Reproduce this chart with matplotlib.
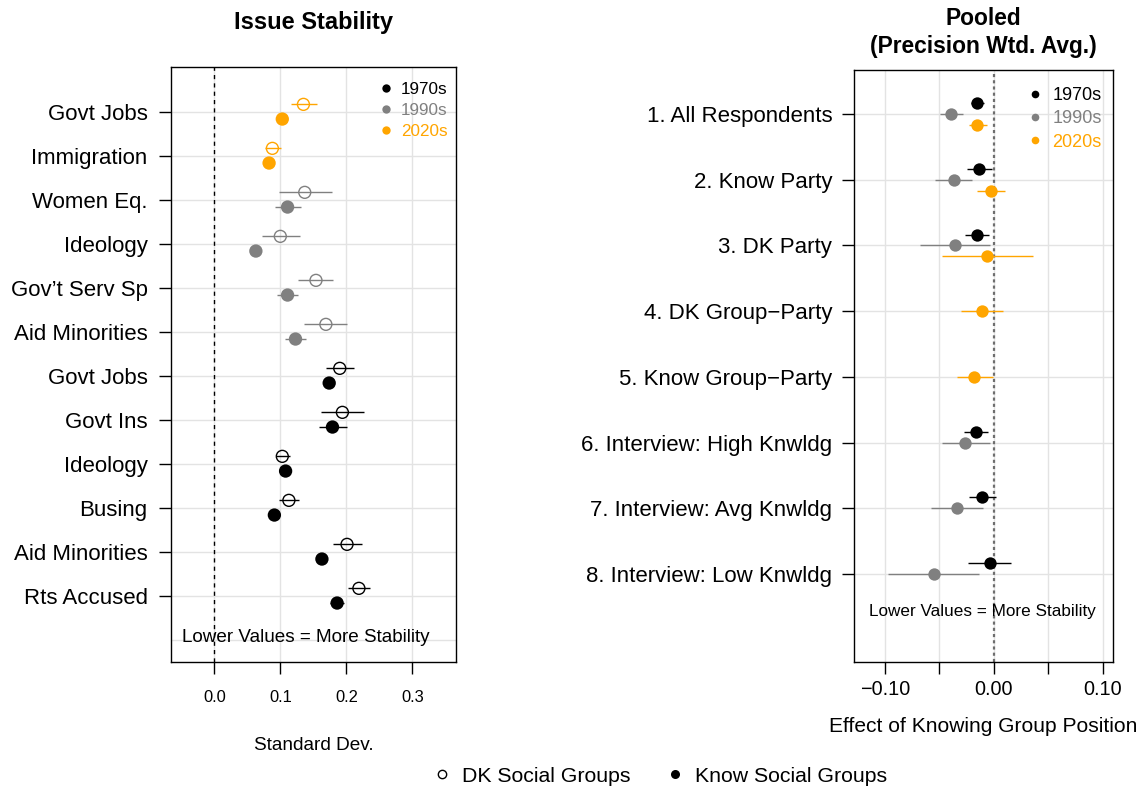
import numpy as np
import matplotlib.pyplot as plt
from matplotlib.lines import Line2D

plt.rcParams['font.family'] = 'Liberation Sans'
plt.rcParams['axes.unicode_minus'] = True

decade_colors = {'1970s': 'black', '1990s': '#808080', '2020s': '#FFA500'}
decades = ['1970s', '1990s', '2020s']

# left panel: issue stability (rows top to bottom)
issue_labels = ['Govt Jobs', 'Immigration', 'Women Eq.', 'Ideology', 'Gov\u2019t Serv Sp',
                'Aid Minorities', 'Govt Jobs', 'Govt Ins', 'Ideology', 'Busing',
                'Aid Minorities', 'Rts Accused']
issue_decade = ['2020s', '2020s', '1990s', '1990s', '1990s', '1990s',
                '1970s', '1970s', '1970s', '1970s', '1970s', '1970s']
dk_est = [0.135, 0.088, 0.137, 0.100, 0.154, 0.169, 0.190, 0.194, 0.103, 0.113, 0.201, 0.219]
dk_lo = [0.116, 0.077, 0.098, 0.072, 0.127, 0.136, 0.169, 0.161, 0.094, 0.098, 0.180, 0.203]
dk_hi = [0.155, 0.101, 0.178, 0.130, 0.180, 0.201, 0.211, 0.227, 0.114, 0.129, 0.223, 0.236]
know_est = [0.103, 0.083, 0.111, 0.063, 0.111, 0.123, 0.174, 0.179, 0.108, 0.091, 0.163, 0.186]
know_lo = [0.095, 0.076, 0.092, 0.056, 0.095, 0.107, 0.166, 0.159, 0.101, 0.084, 0.156, 0.175]
know_hi = [0.110, 0.090, 0.131, 0.070, 0.127, 0.139, 0.181, 0.201, 0.115, 0.098, 0.170, 0.196]

# right panel: pooled effects (rows top to bottom)
pooled_labels = ['1. All Respondents', '2. Know Party', '3. DK Party',
                 '4. DK Group\u2212Party', '5. Know Group\u2212Party',
                 '6. Interview: High Knwldg', '7. Interview: Avg Knwldg',
                 '8. Interview: Low Knwldg']
nan = np.nan
pooled_est = {
    '1970s': [-0.0151, -0.0132, -0.0153, nan, nan, -0.0165, -0.0108, -0.0034],
    '1990s': [-0.0390, -0.0368, -0.0356, nan, nan, -0.0260, -0.0340, -0.0549],
    '2020s': [-0.0153, -0.0028, -0.0059, -0.0105, -0.0178, nan, nan, nan],
}
pooled_lo = {
    '1970s': [-0.0210, -0.0245, -0.0264, nan, nan, -0.0273, -0.0230, -0.0233],
    '1990s': [-0.0490, -0.0540, -0.0677, nan, nan, -0.0478, -0.0576, -0.0969],
    '2020s': [-0.0230, -0.0156, -0.0475, -0.0303, -0.0340, nan, nan, nan],
}
pooled_hi = {
    '1970s': [-0.0090, -0.0018, -0.0046, nan, nan, -0.0055, 0.0018, 0.0159],
    '1990s': [-0.0285, -0.0197, -0.0034, nan, nan, -0.0037, -0.0096, -0.0132],
    '2020s': [-0.0064, 0.0101, 0.0358, 0.0083, -0.0010, nan, nan, nan],
}
pooled_offset = {'1970s': 0.165, '1990s': 0.0, '2020s': -0.165}

W, H = 1144, 789
fig = plt.figure(figsize=(W / 100, H / 100), dpi=100)
ax1 = fig.add_axes([171 / W, 1 - 662 / H, 285 / W, 595 / H])
ax2 = fig.add_axes([854.3 / W, 1 - 661.7 / H, 258.4 / W, 591.7 / H])
grid_col = '#E3E3E3'

# ---- left panel ----
n = len(issue_labels)
y = np.arange(n, 0, -1)
cols = [decade_colors[d] for d in issue_decade]
ax1.hlines(y + 0.167, dk_lo, dk_hi, colors=cols, lw=1, zorder=3)
ax1.hlines(y - 0.167, know_lo, know_hi, colors=cols, lw=1, zorder=3)
ax1.scatter(dk_est, y + 0.167, s=8.6 ** 2, facecolors='none', edgecolors=cols,
            linewidths=1, zorder=4)
ax1.scatter(know_est, y - 0.167, s=9.6 ** 2, c=cols, linewidths=0, zorder=4)
ax1.axvline(0, color='black', lw=1, ls=(0, (3, 3)), zorder=2)
ax1.axhline(0, color=grid_col, lw=1, zorder=0)

ax1.set_xlim(-0.0655, 0.366)
ax1.set_ylim(-0.507, 13.016)
ax1.set_xticks([0.0, 0.1, 0.2, 0.3], ['0.0', '0.1', '0.2', '0.3'], fontsize=11.9)
ax1.set_yticks(y, issue_labels, fontsize=16)
ax1.tick_params(axis='x', length=8.4, width=1, pad=11.5)
ax1.tick_params(axis='y', length=8.4, width=1, pad=8.5)
ax1.grid(color=grid_col, lw=1)
ax1.set_axisbelow(True)
ax1.set_xlabel('Standard Dev.', fontsize=13.7, labelpad=23)
ax1.set_title('Issue Stability', fontsize=17, fontweight='bold', pad=27.5)
ax1.text(0.138, 0.04, 'Lower Values = More Stability', fontsize=13.6,
         ha='center', va='center', zorder=5)

# ---- right panel ----
m = len(pooled_labels)
yp = np.arange(m, 0, -1)
for d in decades:
    est = np.array(pooled_est[d])
    present = ~np.isnan(est)
    # rows that carry only this decade are drawn on the centre line
    others = sum(~np.isnan(np.array(pooled_est[o])) for o in decades if o != d)
    off = np.where(others > 0, pooled_offset[d], 0.0)
    yy = (yp + off)[present]
    ax2.hlines(yy, np.array(pooled_lo[d])[present], np.array(pooled_hi[d])[present],
               colors=decade_colors[d], lw=1, zorder=3)
    ax2.scatter(est[present], yy, s=8.9 ** 2, color=decade_colors[d],
                linewidths=0, zorder=4)
ax2.axvline(0, color='#6E6E6E', lw=1.6, ls=(0, (1.4, 1.4)), zorder=2)

ax2.set_xlim(-0.1281, 0.1093)
ax2.set_ylim(-0.335, 8.67)
ax2.set_xticks([-0.10, -0.05, 0.0, 0.05, 0.10],
               ['\u22120.10', '', '0.00', '', '0.10'], fontsize=14.3)
ax2.set_yticks(yp, pooled_labels, fontsize=16)
ax2.tick_params(axis='x', length=8.4, width=1, pad=5)
ax2.tick_params(axis='y', length=8.4, width=1, pad=7.5)
ax2.grid(color=grid_col, lw=1)
ax2.set_axisbelow(True)
ax2.set_xlabel('Effect of Knowing Group Position', fontsize=15.1, labelpad=13)
ax2.set_title('Pooled\n(Precision Wtd. Avg.)', fontsize=16.4, fontweight='bold',
              pad=12, linespacing=1.28)
ax2.text(-0.0103, 0.425, 'Lower Values = More Stability', fontsize=12.3,
         ha='center', va='center', zorder=5)

for ax in (ax1, ax2):
    for sp in ax.spines.values():
        sp.set_linewidth(1)

# decade legends inside each panel
def decade_handles(ms):
    return [Line2D([], [], marker='o', ls='none', color=decade_colors[d],
                   markersize=ms, markeredgewidth=0) for d in decades]

ax1.legend(decade_handles(6), decades, labelcolor=[decade_colors[d] for d in decades],
           loc='upper left', bbox_to_anchor=(0.7295, 0.974), frameon=False,
           fontsize=12.3, handlelength=0.8, handletextpad=0.48, labelspacing=0.34,
           borderpad=0, borderaxespad=0)
ax2.legend(decade_handles(5.5), decades, labelcolor=[decade_colors[d] for d in decades],
           loc='upper left', bbox_to_anchor=(0.671, 0.971), frameon=False,
           fontsize=13, handlelength=0.8, handletextpad=0.56, labelspacing=0.35,
           borderpad=0, borderaxespad=0)

# shared legend for the marker shapes
shape_handles = [
    Line2D([], [], marker='o', ls='none', markerfacecolor='none',
           markeredgecolor='black', markersize=6, markeredgewidth=1),
    Line2D([], [], marker='o', ls='none', color='black', markersize=6.5,
           markeredgewidth=0),
]
fig.legend(shape_handles, ['DK Social Groups', 'Know Social Groups'], loc='center',
           bbox_to_anchor=(0.578, 1 - 776 / H), ncol=2, frameon=False, fontsize=15.3,
           handlelength=0.6, handletextpad=0.65, columnspacing=1.77, borderpad=0)

fig.savefig('out.png', dpi=100)
